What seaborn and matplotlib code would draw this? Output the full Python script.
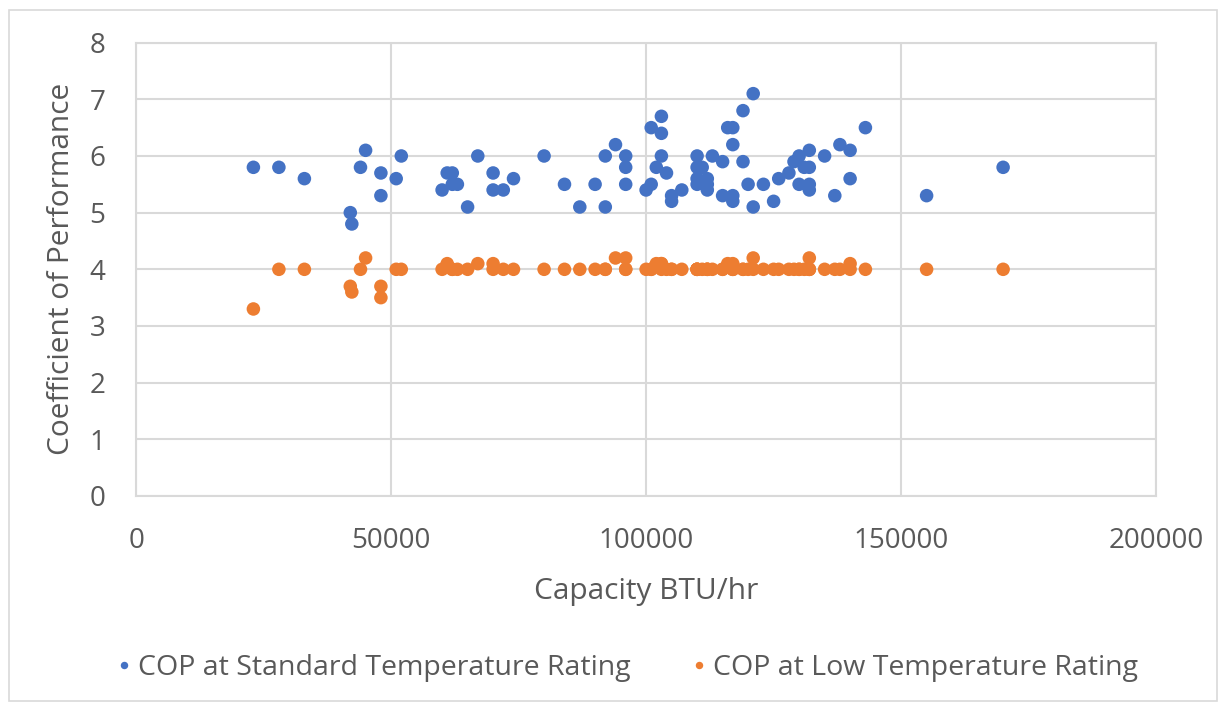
import matplotlib
matplotlib.use("Agg")
import matplotlib.pyplot as plt
import seaborn as sns
import pandas as pd
from matplotlib.patches import Rectangle

# capacity (BTU/hr) with COP at standard and low temperature rating, one entry per unit
capacity = [
    23000, 28000, 33000, 42000, 42300, 44000, 45000, 48000, 48000, 51000,
    52000, 60000, 61000, 62000, 62000, 63000, 65000, 67000, 70000, 70000,
    72000, 74000, 80000, 84000, 87000, 90000, 92000, 92000, 94000, 96000,
    96000, 96000, 100000, 101000, 101000, 103000, 103000, 103000, 102000, 104000,
    105000, 105000, 107000, 110000, 110000, 111000, 110000, 110000, 112000, 112000,
    112000, 113000, 115000, 115000, 116000, 117000, 117000, 117000, 117000, 119000,
    121000, 119000, 120000, 121000, 123000, 125000, 126000, 128000, 129000, 130000,
    130000, 131000, 132000, 132000, 132000, 132000, 135000, 137000, 138000, 140000,
    140000, 143000, 155000, 170000,
]
cop_standard = [
    5.8, 5.8, 5.6, 5.0, 4.8, 5.8, 6.1, 5.7, 5.3, 5.6,
    6.0, 5.4, 5.7, 5.7, 5.5, 5.5, 5.1, 6.0, 5.7, 5.4,
    5.4, 5.6, 6.0, 5.5, 5.1, 5.5, 6.0, 5.1, 6.2, 6.0,
    5.8, 5.5, 5.4, 5.5, 6.5, 6.7, 6.4, 6.0, 5.8, 5.7,
    5.3, 5.2, 5.4, 6.0, 5.8, 5.8, 5.6, 5.5, 5.6, 5.5,
    5.4, 6.0, 5.9, 5.3, 6.5, 6.5, 6.2, 5.3, 5.2, 6.8,
    7.1, 5.9, 5.5, 5.1, 5.5, 5.2, 5.6, 5.7, 5.9, 6.0,
    5.5, 5.8, 6.1, 5.8, 5.5, 5.4, 6.0, 5.3, 6.2, 6.1,
    5.6, 6.5, 5.3, 5.8,
]
cop_low = [
    3.3, 4.0, 4.0, 3.7, 3.6, 4.0, 4.2, 3.7, 3.5, 4.0,
    4.0, 4.0, 4.1, 4.0, 4.0, 4.0, 4.0, 4.1, 4.1, 4.0,
    4.0, 4.0, 4.0, 4.0, 4.0, 4.0, 4.0, 4.0, 4.2, 4.2,
    4.0, 4.0, 4.0, 4.0, 4.0, 4.1, 4.1, 4.0, 4.1, 4.0,
    4.0, 4.0, 4.0, 4.0, 4.0, 4.0, 4.0, 4.0, 4.0, 4.0,
    4.0, 4.0, 4.0, 4.0, 4.1, 4.1, 4.0, 4.0, 4.0, 4.0,
    4.2, 4.0, 4.0, 4.0, 4.0, 4.0, 4.0, 4.0, 4.0, 4.0,
    4.0, 4.0, 4.2, 4.0, 4.0, 4.0, 4.0, 4.0, 4.0, 4.1,
    4.0, 4.0, 4.0, 4.0,
]
series_names = ["COP at Standard Temperature Rating", "COP at Low Temperature Rating"]

df = pd.concat([
    pd.DataFrame({"capacity": capacity, "cop": cop_standard, "series": series_names[0]}),
    pd.DataFrame({"capacity": capacity, "cop": cop_low, "series": series_names[1]}),
])

sns.set_theme(style="white")
plt.rcParams["font.family"] = ["Open Sans", "DejaVu Sans"]
text_color = "#595959"
grid_color = "#d9d9d9"

fig = plt.figure(figsize=(12.26, 7.05), dpi=100)
ax = fig.add_axes([0.111, 0.2965, 0.832, 0.643])

sns.scatterplot(
    data=df, x="capacity", y="cop", hue="series",
    palette=["#4472C4", "#ED7D31"], s=95, linewidth=0,
    ax=ax, zorder=3,
)

ax.set_xlim(0, 200000)
ax.set_ylim(0, 8)
ax.set_xticks(range(0, 200001, 50000))
ax.set_yticks(range(0, 9))
ax.grid(True, color=grid_color, linewidth=1.5, zorder=0)
for spine in ax.spines.values():
    spine.set_color(grid_color)
    spine.set_linewidth(1.5)
ax.tick_params(length=0, labelsize=20, colors=text_color, pad=22)
ax.set_xlabel("Capacity BTU/hr", fontsize=21.5, color=text_color, labelpad=16)
ax.set_ylabel("Coefficient of Performance", fontsize=21.5, color=text_color, labelpad=10)

handles, labels = ax.get_legend_handles_labels()
ax.legend(
    handles, labels, loc="center", bbox_to_anchor=(0.51, 0.052),
    bbox_transform=fig.transFigure, ncol=2, frameon=False,
    fontsize=20.5, labelcolor=text_color, markerscale=0.55,
    handletextpad=0.1, columnspacing=2.0, handlelength=0.8,
)

# light outer chart border
fig.patches.append(Rectangle((0.007, 0.006), 0.986, 0.98, transform=fig.transFigure,
                             fill=False, edgecolor=grid_color, linewidth=1.2))

fig.savefig("out.png", dpi=100, facecolor="white")
